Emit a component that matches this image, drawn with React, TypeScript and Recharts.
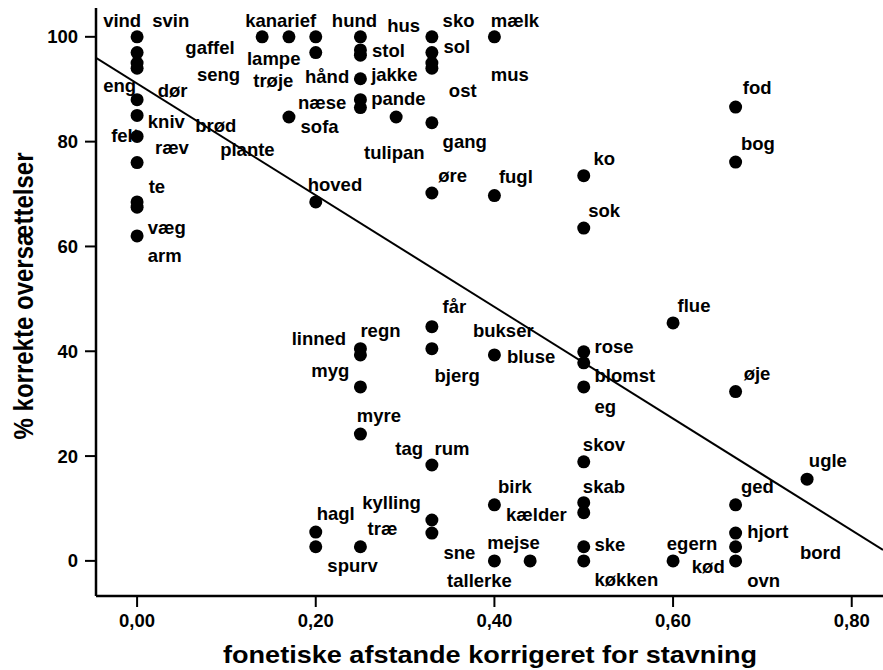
import React from 'react';
import { ScatterChart, Scatter, XAxis, YAxis } from 'recharts';

const FONT = '"Liberation Sans", Arial, Helvetica, sans-serif';

const xTicks = [0, 0.2, 0.4, 0.6, 0.8];
const yTicks = [0, 20, 40, 60, 80, 100];
const xTitle = 'fonetiske afstande korrigeret for stavning';
const yTitle = '% korrekte oversættelser';

const pointX = [
  0, 0, 0, 0, 0, 0, 0, 0, 0, 0, 0,
  0.14, 0.17, 0.2, 0.2, 0.17, 0.2,
  0.25, 0.25, 0.25, 0.25, 0.25, 0.25,
  0.29,
  0.33, 0.33, 0.33, 0.33, 0.33, 0.33,
  0.4, 0.4,
  0.5, 0.5,
  0.67, 0.67,
  0.25, 0.25, 0.25, 0.25, 0.25,
  0.33, 0.33, 0.33, 0.33, 0.33,
  0.4, 0.4, 0.4,
  0.44,
  0.5, 0.5, 0.5, 0.5, 0.5, 0.5, 0.5, 0.5,
  0.6, 0.6,
  0.67, 0.67, 0.67, 0.67, 0.67,
  0.75,
  0.2, 0.2,
];
const pointY = [
  100, 97, 95, 94, 88, 85, 81, 76, 68.5, 67.5, 62,
  100, 100, 100, 97, 84.7, 68.5,
  100, 97.5, 96.5, 92, 88, 86.5,
  84.7,
  100, 97, 95, 94, 83.6, 70.2,
  100, 69.7,
  73.5, 63.5,
  86.6, 76.1,
  40.5, 39.3, 33.2, 24.2, 2.7,
  44.7, 40.5, 18.3, 7.8, 5.3,
  39.3, 10.7, 0,
  0,
  39.9, 37.8, 33.2, 18.9, 11.1, 9.2, 2.7, 0,
  45.4, 0,
  32.3, 10.7, 5.3, 2.7, 0,
  15.6,
  5.5, 2.7,
];

const labelWords = [
  'vind', 'svin', 'gaffel', 'seng', 'eng', 'dør', 'kniv', 'brød', 'felt', 'ræv',
  'plante', 'te', 'væg', 'arm', 'kanarief', 'lampe', 'trøje', 'hånd', 'næse', 'sofa',
  'hund', 'hus', 'stol', 'jakke', 'pande', 'tulipan', 'sko', 'sol', 'ost', 'gang',
  'mælk', 'mus', 'hoved', 'øre', 'fugl', 'fod', 'bog', 'ko', 'sok', 'får',
  'linned', 'regn', 'myg', 'bjerg', 'bukser', 'bluse', 'rose', 'blomst', 'eg', 'myre',
  'tag', 'rum', 'skov', 'skab', 'flue', 'øje', 'ugle', 'ged', 'hjort', 'bord',
  'ske', 'egern', 'kød', 'køkken', 'ovn', 'birk', 'kælder', 'kylling', 'hagl', 'træ',
  'spurv', 'sne', 'mejse', 'tallerke',
];
const labelX = [
  -0.038, 0.017, 0.054, 0.067, -0.038, 0.023, 0.012, 0.065, -0.029, 0.02,
  0.093, 0.013, 0.012, 0.012, 0.121, 0.123, 0.13, 0.188, 0.18, 0.183,
  0.218, 0.28, 0.263, 0.262, 0.262, 0.254, 0.342, 0.343, 0.349, 0.342,
  0.396, 0.396, 0.191, 0.337, 0.405, 0.678, 0.676, 0.511, 0.505, 0.342,
  0.173, 0.25, 0.195, 0.333, 0.376, 0.414, 0.512, 0.512, 0.512, 0.246,
  0.289, 0.333, 0.499, 0.499, 0.605, 0.679, 0.752, 0.676, 0.683, 0.742,
  0.512, 0.593, 0.621, 0.512, 0.683, 0.404, 0.413, 0.252, 0.201, 0.258,
  0.213, 0.343, 0.392, 0.347,
];
const labelY = [
  101.9, 101.9, 96.8, 91.6, 89.5, 88.5, 82.6, 81.9, 80.0, 77.7,
  77.3, 70.2, 62.4, 57.1, 101.9, 94.7, 90.5, 91.2, 86.3, 81.7,
  101.9, 101.0, 96.2, 91.6, 87.0, 76.7, 101.9, 96.9, 88.5, 78.8,
  101.9, 91.6, 70.6, 72.3, 72.1, 89.1, 78.4, 75.6, 65.6, 47.3,
  41.2, 42.7, 35.1, 34.2, 42.7, 37.8, 39.7, 34.2, 28.2, 26.5,
  20.2, 20.2, 21.0, 13.0, 47.5, 34.5, 17.9, 13.0, 4.4, 0.4,
  1.9, 2.1, -2.3, -4.8, -5.0, 13.0, 7.6, 9.9, 7.8, 5.0,
  -2.1, 0.4, 2.3, -5.0,
];

const regX = [-0.046, 0.835];
const regY = [96.0, 2.1];

const points = pointX.map((x, i) => ({ x, y: pointY[i] }));
const labels = labelWords.map((word, i) => ({ x: labelX[i], y: labelY[i], word }));
const regression = regX.map((x, i) => ({ x, y: regY[i] }));

const LabelShape = (props: any) => (
  <text
    x={props.cx}
    y={props.cy}
    fontSize={18.5}
    fontWeight={700}
    fontFamily={FONT}
    fill="#000"
  >
    {props.payload.word}
  </text>
);

const DotShape = (props: any) => <circle cx={props.cx} cy={props.cy} r={6.5} fill="#000" />;

const NoShape = () => <g />;

const XTitle = () => (
  <text
    x={490}
    y={663}
    textAnchor="middle"
    fontSize={24}
    fontWeight={700}
    fontFamily={FONT}
    fill="#000"
    textLength={534}
    lengthAdjust="spacingAndGlyphs"
  >
    {xTitle}
  </text>
);

const YTitle = () => (
  <text
    x={33}
    y={296}
    transform="rotate(-90 33 296)"
    textAnchor="middle"
    fontSize={28}
    fontWeight={700}
    fontFamily={FONT}
    fill="#000"
    textLength={287}
    lengthAdjust="spacingAndGlyphs"
  >
    {yTitle}
  </text>
);

const fmtX = (v: number) => v.toFixed(2).replace('.', ',');

export default function App() {
  return (
    <div style={{ position: 'absolute', left: 0, top: 0, width: 883, height: 670, background: '#fff' }}>
      <ScatterChart width={883} height={670} margin={{ top: 8, right: 0, bottom: 0, left: 0 }}>
        <XAxis
          xAxisId="top"
          orientation="top"
          type="number"
          dataKey="x"
          domain={[-0.046, 0.835]}
          allowDataOverflow
          height={0}
          tick={false}
          tickLine={false}
          axisLine={{ stroke: '#000', strokeWidth: 2.5 }}
        />
        <XAxis
          type="number"
          dataKey="x"
          domain={[-0.046, 0.835]}
          allowDataOverflow
          ticks={xTicks}
          tickFormatter={fmtX}
          height={74}
          tickSize={11}
          tickMargin={7}
          axisLine={{ stroke: '#000', strokeWidth: 2.5 }}
          tickLine={{ stroke: '#000', strokeWidth: 2 }}
          tick={{ fill: '#000', fontSize: 18.5, fontWeight: 700, fontFamily: FONT }}
          label={<XTitle />}
        />
        <YAxis
          type="number"
          dataKey="y"
          domain={[-6.7, 105.5]}
          allowDataOverflow
          ticks={yTicks}
          width={96}
          tickSize={11}
          tickMargin={7}
          axisLine={{ stroke: '#000', strokeWidth: 2.5 }}
          tickLine={{ stroke: '#000', strokeWidth: 2 }}
          tick={{ fill: '#000', fontSize: 18.5, fontWeight: 700, fontFamily: FONT }}
          label={<YTitle />}
        />
        <Scatter data={labels} shape={LabelShape} isAnimationActive={false} />
        <Scatter data={points} shape={DotShape} isAnimationActive={false} />
        <Scatter
          data={regression}
          shape={NoShape}
          line={{ stroke: '#000', strokeWidth: 2 }}
          lineType="joint"
          isAnimationActive={false}
        />
      </ScatterChart>
    </div>
  );
}
